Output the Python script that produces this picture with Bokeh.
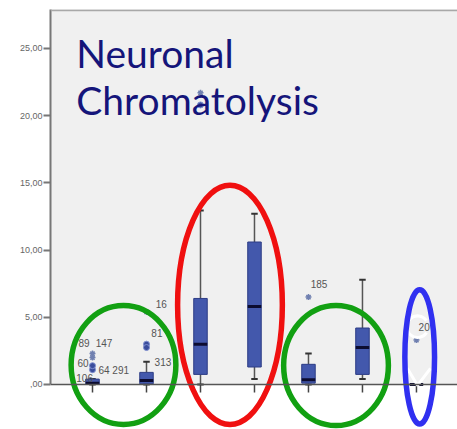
from bokeh.plotting import figure
from bokeh.models import Range1d, Span, Label, FixedTicker, ColumnDataSource
from bokeh.embed import file_html
from bokeh.resources import INLINE
from bokeh.core.properties import value

# ---- data ----
groups = [1, 2, 3, 4, 5, 6, 7]
q1 = [0.0, 0.05, 0.75, 1.3, 0.1, 0.75, 0.0]
median = [0.1, 0.3, 3.0, 5.8, 0.35, 2.75, 0.0]
q3 = [0.4, 0.9, 6.4, 10.6, 1.5, 4.2, 0.0]
whisk_lo = [0.0, 0.0, 0.0, 0.4, 0.0, 0.4, 0.0]
whisk_hi = [0.4, 1.7, 12.95, 12.7, 2.3, 7.8, 0.0]

circ_x = [1, 1, 2, 2, 3]
circ_y = [1.1, 1.4, 3.0, 2.75, 20.8]
star_x = [1, 1, 2, 3, 5, 7]
star_y = [2.3, 2.0, 5.4, 21.7, 6.5, 3.3]

lab_x = [0.74, 1.06, 0.72, 1.11, 0.70, 2.17, 2.09, 2.15, 5.04, 7.04]
lab_y = [3.1, 3.05, 1.6, 1.05, 0.45, 6.0, 3.8, 1.7, 7.5, 4.25]
lab_t = ["89", "147", "60", "64 291", "106", "16", "81", "313", "185", "20"]

ytick_vals = [0, 5, 10, 15, 20, 25]
ytick_labels = [",00", "5,00", "10,00", "15,00", "20,00", "25,00"]

# annotation ellipses: centre x, centre y, width, height (data units)
ell_x = [1.574, 3.546, 5.51, 7.06]
ell_y = [1.45, 5.92, 1.41, 2.05]
ell_w = [1.94, 1.94, 1.94, 0.55]
ell_h = [8.85, 17.8, 8.93, 10.0]
ell_c = ["#12a012", "#f01010", "#12a012", "#3030f0"]

Y_TOP = 27.9
p = figure(width=457, height=429, output_backend="svg", toolbar_location=None,
           x_range=Range1d(0.222, 7.76), y_range=Range1d(-3.35, Y_TOP),
           min_border_left=50, min_border_right=0, min_border_top=9, min_border_bottom=0,
           background_fill_color="white", border_fill_color="white")
p.outline_line_color = None
p.xaxis.visible = False
p.xgrid.visible = False
p.ygrid.visible = False

yax = p.yaxis[0]
yax.ticker = FixedTicker(ticks=ytick_vals)
yax.major_label_overrides = {v: s for v, s in zip(ytick_vals, ytick_labels)}
yax.bounds = (0, Y_TOP)
yax.axis_line_color = "#777777"
yax.axis_line_width = 2
yax.major_tick_line_color = "#777777"
yax.major_tick_line_width = 2
yax.major_tick_out = 7
yax.major_tick_in = 0
yax.minor_tick_line_color = None
yax.major_label_text_font = "Liberation Sans"
yax.major_label_text_font_size = "9px"
yax.major_label_text_color = "#666666"
yax.major_label_standoff = 1

# plot-area background (above zero line only)
p.quad(left=[0.222], right=[7.76], bottom=[0], top=[Y_TOP], fill_color="#f0f0f0", line_color=None)
p.add_layout(Span(location=Y_TOP - 0.06, dimension="width", line_color="#a8a8a8", line_width=2))

# x ticks below zero line
p.segment(x0=groups, y0=[0] * 7, x1=groups, y1=[-0.6] * 7, line_color="#444444", line_width=1.5)

# whiskers
p.segment(x0=groups, y0=q3, x1=groups, y1=whisk_hi, line_color="#555555", line_width=1.5)
p.segment(x0=groups, y0=whisk_lo, x1=groups, y1=q1, line_color="#555555", line_width=1.5)
cw = 0.06
p.segment(x0=[g - cw for g in groups], y0=whisk_hi, x1=[g + cw for g in groups], y1=whisk_hi,
          line_color="#333333", line_width=2)
p.segment(x0=[g - cw for g in groups], y0=whisk_lo, x1=[g + cw for g in groups], y1=whisk_lo,
          line_color="#333333", line_width=2)

# boxes
p.vbar(x=groups, width=0.25, bottom=q1, top=q3, fill_color="#4358ac", line_color="#2d3d86", line_width=1)
p.segment(x0=[g - 0.125 for g in groups], y0=median, x1=[g + 0.125 for g in groups], y1=median,
          line_color="#0c0c30", line_width=3)

# outliers
p.scatter(circ_x, circ_y, marker="circle", size=6, fill_color="#3a4c9c", line_color="#8090d0", line_width=1)
p.scatter(star_x, star_y, marker="asterisk", size=6, line_color="#7080b0", line_width=1.5)

src = ColumnDataSource(dict(x=lab_x, y=lab_y, t=lab_t))
p.text(x="x", y="y", text="t", source=src, text_font=value("Liberation Sans"), text_font_size="10px",
       text_color="#555555", text_baseline="middle", text_align="left")

# title text
p.add_layout(Label(x=0.70, y=24.7, text="Neuronal", text_font="Lato", text_font_size="39px",
                   text_color="#15157a", text_baseline="alphabetic"))
p.add_layout(Label(x=0.70, y=21.13, text="Chromatolysis", text_font="Lato", text_font_size="39px",
                   text_color="#15157a", text_baseline="alphabetic"))

# zero line
p.add_layout(Span(location=0, dimension="width", line_color="#555555", line_width=1.5))

# hand-drawn white marks near last group
p.arc(x=[7.02], y=[4.3], radius=0.2, start_angle=0.6, end_angle=5.7, line_color="white", line_width=3)
p.line(x=[6.83, 7.02, 7.26], y=[1.2, -0.07, 1.2], line_color="white", line_width=3)

# annotation ellipses
p.ellipse(x=ell_x, y=ell_y, width=ell_w, height=ell_h, fill_color=None, line_color=ell_c, line_width=5.5)

open("out.html", "w").write(file_html(p, INLINE))
